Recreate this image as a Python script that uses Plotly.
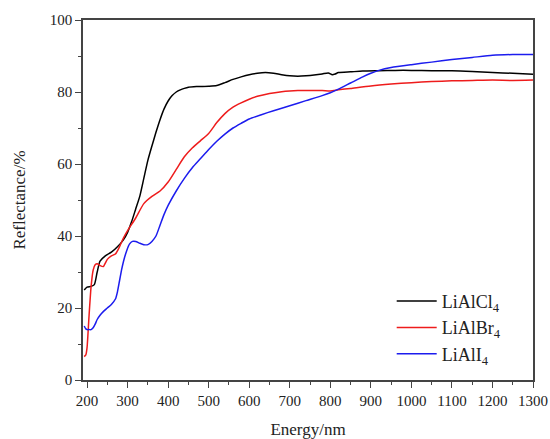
import plotly.graph_objects as go

cl_nm = [193,200,210,218,225,232,245,260,275,290,300,310,320,330,340,350,360,370,380,390,400,410,420,430,440,450,470,500,520,540,560,580,600,620,640,660,680,700,720,740,760,780,795,805,812,820,850,880,920,960,1000,1050,1100,1150,1200,1250,1300]
cl_r = [25,25.8,26,26.5,30,33,34.5,35.5,37,39,41,44,47.5,51,56,61,65,68.8,72.3,75.3,77.5,79,80,80.6,81,81.3,81.5,81.6,81.8,82.6,83.5,84.2,84.8,85.2,85.4,85.2,84.8,84.5,84.4,84.5,84.7,85.0,85.3,84.8,85.0,85.4,85.6,85.8,85.9,86.0,86.0,85.9,85.9,85.7,85.4,85.2,84.9]

br_nm = [193,197,200,205,210,215,220,225,232,240,250,260,270,280,290,300,320,340,360,380,400,420,440,460,480,500,520,540,560,580,600,620,650,680,700,720,750,780,800,820,850,900,950,1000,1050,1100,1150,1200,1250,1300]
br_r = [6.5,7,9,18,26,30.5,32,32.3,31.8,31.5,33.5,34.5,35,37,39.5,41.5,45,49,51,52.5,55,58.5,62,64.5,66.5,68.5,71.5,74,75.8,77,78,78.8,79.6,80.1,80.3,80.4,80.4,80.4,80.3,80.6,81,81.7,82.2,82.6,82.9,83.1,83.2,83.3,83.2,83.3]

i_nm = [193,197,200,205,210,215,220,225,232,240,250,260,270,275,280,285,290,298,305,312,320,330,340,350,360,370,380,390,400,420,440,460,480,500,520,540,560,580,600,630,660,700,740,780,800,820,850,880,900,920,950,1000,1050,1100,1150,1200,1250,1300]
i_r = [15,14.2,14,14,14,14.5,15.5,16.8,18,19,20,21,22.5,24.5,27.5,30.5,33,36,37.8,38.5,38.5,38,37.6,37.6,38.5,40,43,46,48.5,52.5,56,59,61.5,64,66.3,68.3,70,71.3,72.5,73.7,74.8,76.2,77.6,79,79.8,80.8,82.5,84.2,85.2,86,86.8,87.6,88.3,89,89.6,90.2,90.4,90.4]

names = ["LiAlCl<sub>4</sub>", "LiAlBr<sub>4</sub>", "LiAlI<sub>4</sub>"]
colors = ["#000000", "#ee1c1c", "#1c1cee"]

fig = go.Figure()
for xs, ys, n, c in [(cl_nm, cl_r, names[0], colors[0]), (br_nm, br_r, names[1], colors[1]), (i_nm, i_r, names[2], colors[2])]:
    fig.add_trace(go.Scatter(x=xs, y=ys, name=n, mode="lines",
                             line=dict(color=c, width=1.5, shape="spline", smoothing=0.6)))

font = "Liberation Serif"
axis_common = dict(showline=True, linecolor="#444", linewidth=1.5, mirror=True,
                   ticks="outside", ticklen=6, tickwidth=1.2, tickcolor="#444",
                   showgrid=False, zeroline=False, automargin=False,
                   tickfont=dict(family=font, size=15, color="#222"))
fig.update_layout(
    width=550, height=439,
    margin=dict(l=83, r=17, t=20, b=59),
    paper_bgcolor="white", plot_bgcolor="white",
    font=dict(family=font, size=15, color="#222"),
    xaxis=dict(range=[190, 1300], tick0=200, dtick=100,
               minor=dict(ticks="outside", ticklen=3, dtick=50, tick0=250, tickcolor="#444"),
               title=dict(text="Energy/nm", font=dict(family=font, size=17), standoff=16),
               **axis_common),
    yaxis=dict(range=[0, 100], tick0=0, dtick=20,
               minor=dict(ticks="outside", ticklen=3, dtick=10, tickcolor="#444"),
               title=dict(text="Reflectance/%", font=dict(family=font, size=17), standoff=20),
               **axis_common),
    legend=dict(x=0.686, y=0.27, xanchor="left", yanchor="top",
                bgcolor="rgba(0,0,0,0)", font=dict(family=font, size=18, color="#222"),
                tracegroupgap=0, itemwidth=40),
)
fig.write_html("out.html")
